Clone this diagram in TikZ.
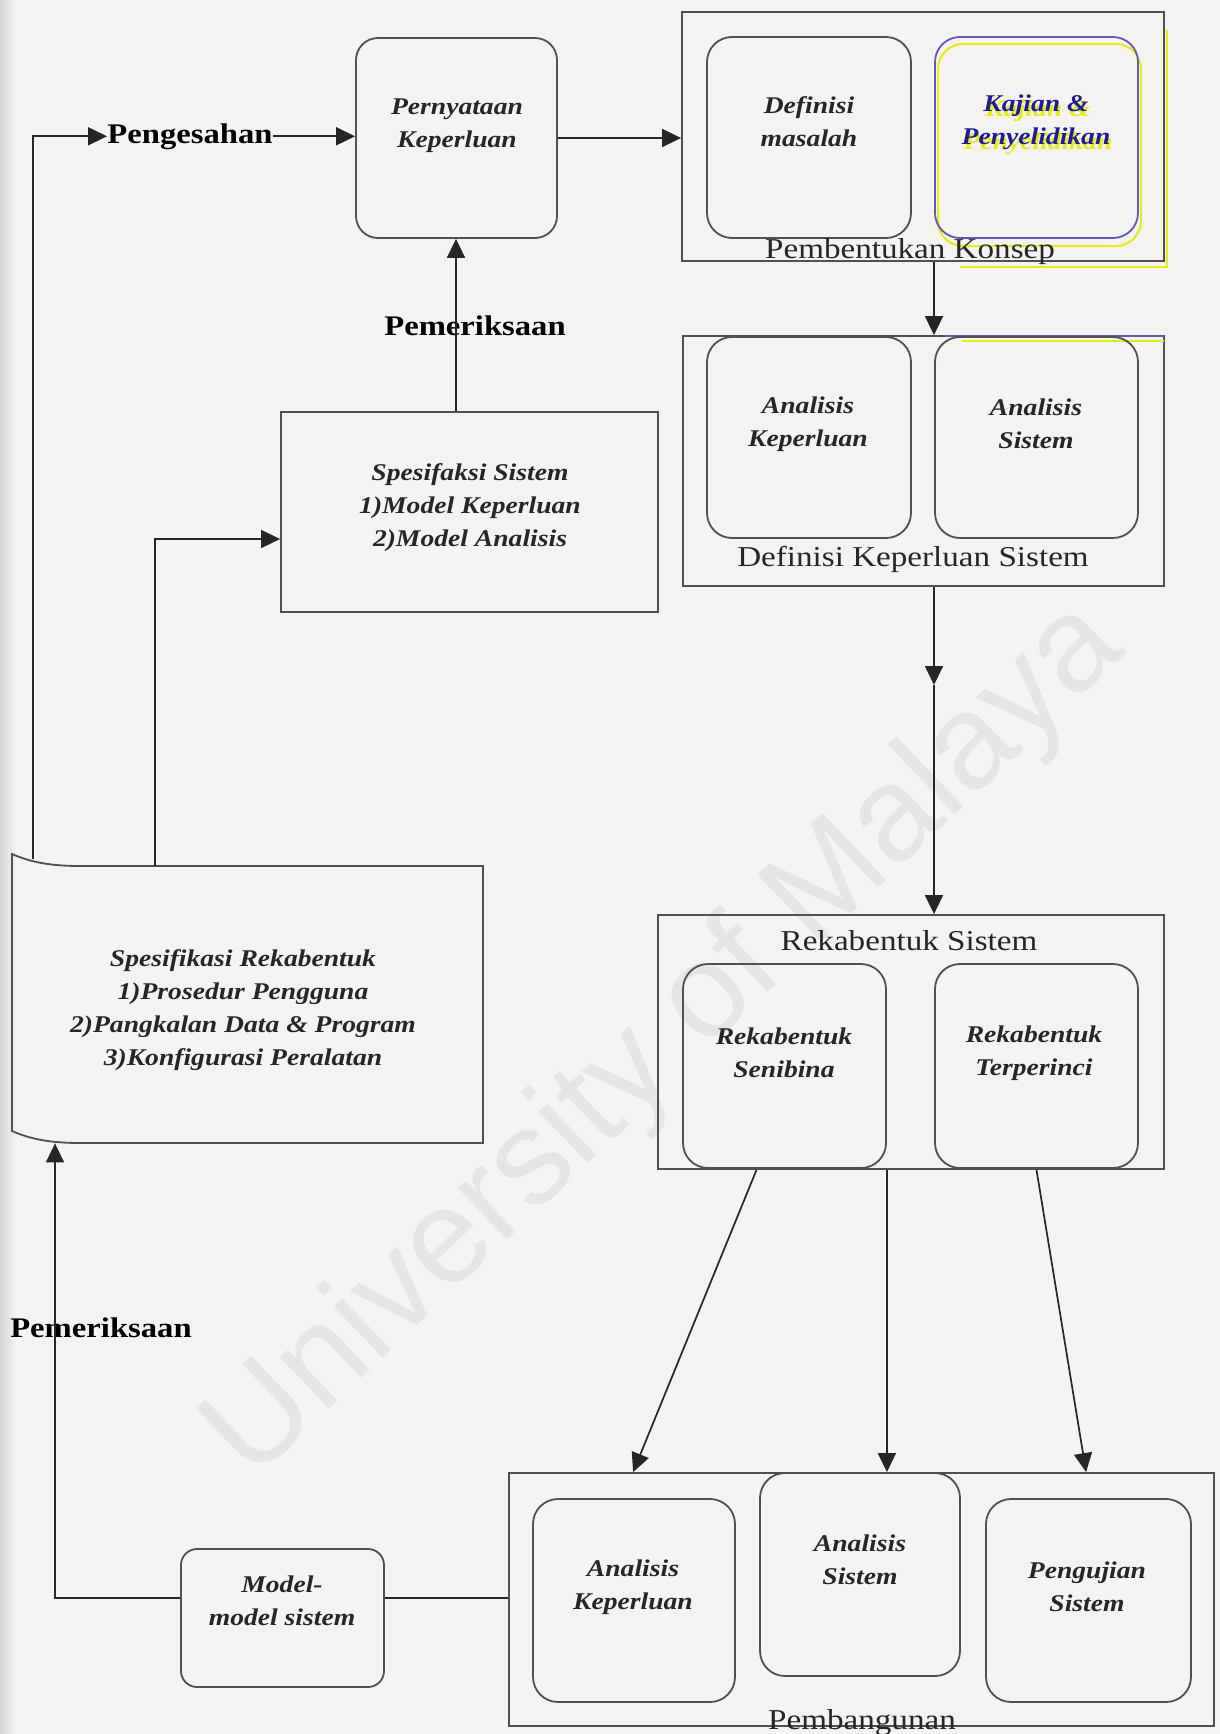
\documentclass[tikz,border=0pt]{standalone}
\usepackage{fontspec}
\setmainfont[FakeStretch=1.15]{Liberation Serif}
\newfontfamily\wmfont{Liberation Sans}
\usetikzlibrary{arrows.meta,calc,fit}

\definecolor{paper}{HTML}{F3F3F1}
\definecolor{ink}{HTML}{262626}
\definecolor{edge}{HTML}{505050}
\definecolor{wmgray}{HTML}{E5E5E4}
\definecolor{hiyel}{HTML}{E4EC12}
\definecolor{hiblue}{HTML}{6A5AD8}
\definecolor{txtblue}{HTML}{1E1A9A}

\begin{document}
\begin{tikzpicture}[x=0.5pt,y=-0.5pt,
  frame/.style={draw=edge, line width=0.9pt, inner sep=0pt},
  rbox/.style={frame, rounded corners=12.5pt},
  boxtext/.style={font=\fontsize{12}{16.5}\selectfont\bfseries\itshape, align=center, inner sep=0pt, text=ink},
  title/.style={font=\fontsize{14.4}{17}\selectfont, anchor=base, inner sep=0pt, text=ink},
  tag/.style={font=\fontsize{14.2}{17}\selectfont\bfseries, anchor=base, inner sep=0pt, text=black},
  link/.style={draw=ink, line width=0.85pt},
  arr/.style={link, -{Triangle[length=9.5pt,width=9pt]}},
]
\useasboundingbox (0,0) rectangle (1220,1734);

% paper and scanned edge
\fill[paper] (0,0) rectangle (1220,1734);
\fill[left color=black!16, right color=paper] (0,0) rectangle (16,1734);

% watermark
\node[font=\wmfont\fontsize{67}{67}\selectfont, text=wmgray, rotate=43.5] (wm) at (666,1042) {University of Malaya};

% ---- Pernyataan Keperluan
\node[rbox, rounded corners=11pt, fit={(356,38) (557,238)}] (pk) {};
\node[boxtext] (pkt) at (457,126) {Pernyataan\\Keperluan};

% ---- Pembentukan Konsep
\draw[hiyel, line width=1pt] (1167,30) -- (1167,267) -- (960,267);
\node[frame, fit={(682,12) (1164,261)}] (cbox) {};
\node[rbox, fit={(707,37) (911,238)}] (dm) {};
\node[boxtext] (dmt) at (809,122) {Definisi\\masalah};
\draw[hiyel, line width=1pt, rounded corners=12.5pt] (938,44) rectangle (1141,246);
\node[rbox, draw=hiblue!75!edge, fit={(935,37) (1138,238)}] (kp) {};
\node[boxtext, text=hiyel] (kpshade) at (1038,127) {Kajian \&\\Penyelidikan};
\node[boxtext, text=txtblue] (kpt) at (1036,122) {Kajian \&\\Penyelidikan};
\node[title] (cbt) at (910,258) {Pembentukan Konsep};

% ---- Definisi Keperluan Sistem
\node[frame, fit={(683,336) (1164,586)}] (dbox) {};
\draw[hiblue!75!edge, line width=0.9pt] (945,336) -- (1164,336);
\draw[hiyel, line width=1pt] (962,341) -- (1164,341);
\node[rbox, fit={(707,337) (911,538)}] (ak) {};
\node[boxtext] (akt) at (808,424) {Analisis\\Keperluan};
\node[rbox, fit={(935,337) (1138,538)}] (asy) {};
\node[boxtext] (asyt) at (1036,424) {Analisis\\Sistem};
\node[title] (dbt) at (913,566) {Definisi Keperluan Sistem};

% ---- Spesifikasi Sistem
\node[frame, fit={(281,412) (658,612)}] (ss) {};
\node[boxtext] (sst) at (470,508) {Spesifaksi Sistem\\1)Model Keperluan\\2)Model Analisis};

% ---- Spesifikasi Rekabentuk (curled document sheet)
\node[inner sep=0pt, fit={(12,854) (483,1143)}] (srk) {};
\draw[edge, line width=0.9pt] (12,854) .. controls (30,862) and (50,866) .. (80,866) -- (483,866) -- (483,1143) -- (80,1143) .. controls (50,1143) and (30,1139) .. (12,1131) -- cycle;
\node[boxtext] (srkt) at (243,1010) {Spesifikasi Rekabentuk\\1)Prosedur Pengguna\\2)Pangkalan Data \& Program\\3)Konfigurasi Peralatan};

% ---- Rekabentuk Sistem
\node[frame, fit={(658,915) (1164,1169)}] (rsys) {};
\node[title] (rsyst) at (909,950) {Rekabentuk Sistem};
\node[rbox, fit={(683,964) (886,1168)}] (rsa) {};
\node[boxtext] (rsat) at (784,1053) {Rekabentuk\\Senibina};
\node[rbox, fit={(935,964) (1138,1168)}] (rst) {};
\node[boxtext] (rstt) at (1034,1053) {Rekabentuk\\Terperinci};

% ---- Pembangunan
\node[frame, fit={(509,1473) (1214,1726)}] (pb) {};
\node[rbox, fit={(533,1499) (735,1702)}] (pak) {};
\node[boxtext] (pakt) at (633,1587) {Analisis\\Keperluan};
\node[rbox, fit={(760,1473) (960,1676)}] (pas) {};
\node[boxtext] (past) at (860,1560) {Analisis\\Sistem};
\node[rbox, fit={(986,1499) (1191,1702)}] (pps) {};
\node[boxtext] (ppst) at (1087,1587) {Pengujian\\Sistem};
\node[title] (pbt) at (862,1729) {Pembangunan};

% ---- Model-model sistem
\node[rbox, rounded corners=8pt, fit={(181,1549) (384,1687)}] (mm) {};
\node[boxtext] (mmt) at (282,1601) {Model-\\model sistem};

% ---- labels on the loops
\node[tag] (peng) at (190,143) {Pengesahan};
\node[tag] (pem1) at (475,335) {Pemeriksaan};
\node[tag] (pem2) at (101,1337) {Pemeriksaan};

% ---- routing helpers
\coordinate (laneA) at (33,0);
\coordinate (laneB) at (155,0);
\coordinate (laneC) at (55,0);
\coordinate (laneD) at (456,0);
\coordinate (laneE) at (934,0);
\coordinate (yA) at (0,539);
\coordinate (yB) at (0,1598);
\coordinate (srkA) at (33,859);
\coordinate (srkB) at (155,866);
\coordinate (mid) at (934,685);

% ---- connectors
\draw[arr] (srkA) |- (peng.west);
\draw[arr] (peng.east) -- (peng.east -| pk.west);
\draw[arr] (pk.east) -- (pk.east -| cbox.west);
\draw[arr] (cbox.south -| laneE) -- (dbox.north -| laneE);
\draw[arr] (dbox.south -| laneE) -- (mid);
\draw[arr] (mid) -- (rsys.north -| laneE);
\draw[arr] (ss.north -| laneD) -- (pk.south -| laneD);
\draw[arr] (srkB) |- (ss.west |- yA);
\draw[arr] ($(rsa.south)+(-28,1)$) -- ($(pb.north west)+(125,0)$);
\draw[arr] ($(rsa.south east)+(0,1)$) -- (rsa.south east |- pb.north);
\draw[arr] ($(rst.south)+(0,1)$) -- ($(pb.north west)+(578,0)$);
\draw[link] (pb.west |- yB) -- (mm.east |- yB);
\draw[arr] (mm.west |- yB) -| (srk.south -| laneC);
\end{tikzpicture}
\end{document}
